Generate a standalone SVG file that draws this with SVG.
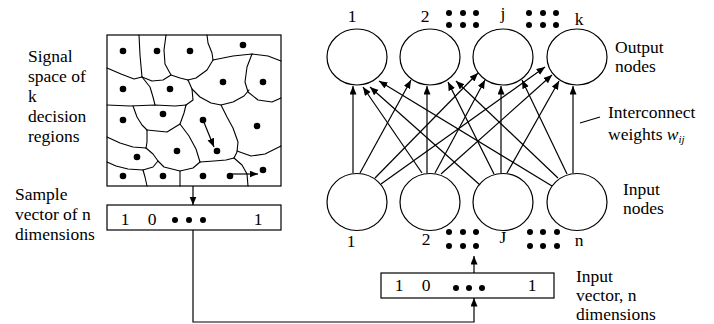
<svg xmlns="http://www.w3.org/2000/svg" width="714" height="324" viewBox="0 0 714 324" font-family="'Liberation Serif', 'DejaVu Serif', serif">
<style>
text{font-family:'Liberation Serif','DejaVu Serif',serif;font-size:17.5px;fill:#000}
.ln{fill:none;stroke:#000;stroke-width:1.2}
.cv{fill:none;stroke:#000;stroke-width:1.1;stroke-linejoin:round;stroke-linecap:round}
.nd{fill:#fff;stroke:#000;stroke-width:1.2}
.bx{fill:#fff;stroke:#000;stroke-width:1.2}
.dt{fill:#000}
</style>
<defs>
<marker id="ah" markerWidth="9" markerHeight="8" refX="8.5" refY="3.5" orient="auto" markerUnits="userSpaceOnUse">
<path d="M0,0 L8.5,3.5 L0,7 z" fill="#000"/>
</marker>
</defs>
<rect width="714" height="324" fill="#fff"/>

<g id="labels-left" font-family="'Liberation Serif', serif">
<text x="28" y="62">Signal</text>
<text x="28" y="82">space of</text>
<text x="28" y="102">k</text>
<text x="28" y="122">decision</text>
<text x="28" y="142">regions</text>
<text x="15" y="200">Sample</text>
<text x="15" y="220">vector of n</text>
<text x="15" y="240">dimensions</text>
</g>

<g id="signal-space">
<rect x="107" y="35" width="174" height="151" class="bx"/>
<polyline class="cv" points="139,35 140,55 142,77"/>
<polyline class="cv" points="107,68 121,74 134,79 142,77"/>
<polyline class="cv" points="142,77 152,81 163,80 171,75"/>
<polyline class="cv" points="166,35 164,50 165,64 171,75 180,78 188,80"/>
<polyline class="cv" points="188,80 196,78 207,70 213,60"/>
<polyline class="cv" points="207,35 208,43 212,53 213,60"/>
<polyline class="cv" points="213,60 233,56 252,54 268,56 281,61"/>
<polyline class="cv" points="252,54 247,67 245,82 248,92 258,100 272,102 281,98"/>
<polyline class="cv" points="142,77 150,87 153,97 155,105"/>
<polyline class="cv" points="107,105 130,106 155,105 175,106 186,105"/>
<polyline class="cv" points="188,80 192,89 193,100 186,105"/>
<polyline class="cv" points="192,89 200,97 211,103 221,105 233,102 244,96 249,90"/>
<polyline class="cv" points="221,105 227,117 233,128 238,142 237,152 234,158"/>
<polyline class="cv" points="237,151 251,156 265,154 281,146"/>
<polyline class="cv" points="234,158 242,165 247,174 248,186"/>
<polyline class="cv" points="186,105 184,113 180,124 189,136 196,149 200,162"/>
<polyline class="cv" points="200,162 214,161 226,160 234,158"/>
<polyline class="cv" points="133,106 137,117 142,125 147,130"/>
<polyline class="cv" points="147,130 167,132 180,124"/>
<polyline class="cv" points="147,130 147,142 146,148"/>
<polyline class="cv" points="107,137 120,143 133,147 146,148"/>
<polyline class="cv" points="146,148 153,154 158,161 153,167 143,170"/>
<polyline class="cv" points="143,170 128,169 116,166 107,162"/>
<polyline class="cv" points="158,161 164,167 180,171 193,168 200,162"/>
<polyline class="cv" points="143,170 145,177 147,186"/>
<polyline class="cv" points="180,171 180,186"/>
<g class="dt">
<circle cx="123" cy="51" r="3.3"/><circle cx="157" cy="51" r="3.3"/><circle cx="190" cy="51" r="3.3"/><circle cx="243" cy="45" r="3.3"/>
<circle cx="123" cy="89" r="3.3"/><circle cx="170" cy="89" r="3.3"/><circle cx="223" cy="82" r="3.3"/><circle cx="263" cy="82" r="3.3"/>
<circle cx="123" cy="120" r="3.3"/><circle cx="163" cy="114" r="3.3"/><circle cx="203" cy="120" r="3.3"/><circle cx="257" cy="126" r="3.3"/>
<circle cx="137" cy="157" r="3.3"/><circle cx="177" cy="151" r="3.3"/><circle cx="217" cy="151" r="3.3"/>
<circle cx="123" cy="176" r="3.3"/><circle cx="163" cy="176" r="3.3"/><circle cx="203" cy="176" r="3.3"/><circle cx="230" cy="176" r="3.3"/><circle cx="263" cy="170" r="3.3"/>
</g>
<line class="ln" x1="203" y1="120" x2="214" y2="147" marker-end="url(#ah)"/>
<line class="ln" x1="230" y1="174" x2="258" y2="174" marker-end="url(#ah)"/>
</g>

<g id="sample-vector">
<rect x="107" y="205" width="174" height="25" class="bx"/>
<text x="125" y="225" text-anchor="middle">1</text>
<text x="152" y="225" text-anchor="middle">0</text>
<circle class="dt" cx="175" cy="220" r="3"/><circle class="dt" cx="189" cy="220" r="3"/><circle class="dt" cx="203" cy="220" r="3"/>
<text x="258" y="225" text-anchor="middle">1</text>
</g>

<g id="input-vector">
<rect x="381" y="273" width="173" height="25" class="bx"/>
<text x="399" y="291" text-anchor="middle">1</text>
<text x="426" y="291" text-anchor="middle">0</text>
<circle class="dt" cx="456" cy="288" r="3"/><circle class="dt" cx="469" cy="288" r="3"/><circle class="dt" cx="482" cy="288" r="3"/>
<text x="532" y="291" text-anchor="middle">1</text>
<text x="576" y="282">Input</text>
<text x="576" y="301">vector, n</text>
<text x="576" y="320">dimensions</text>
</g>

<g id="output-nodes">
<ellipse id="o1" class="nd" cx="357" cy="57" rx="30" ry="28"/>
<ellipse id="o2" class="nd" cx="430" cy="57" rx="30" ry="28"/>
<ellipse id="o3" class="nd" cx="503" cy="57" rx="30" ry="28"/>
<ellipse id="o4" class="nd" cx="577" cy="57" rx="30" ry="28"/>
<text x="352" y="22" text-anchor="middle">1</text>
<text x="425" y="22" text-anchor="middle">2</text>
<text x="503" y="19" text-anchor="middle">j</text>
<text x="579" y="25" text-anchor="middle">k</text>
<g class="dt">
<circle cx="449" cy="13" r="3"/><circle cx="463" cy="13" r="3"/><circle cx="476" cy="13" r="3"/>
<circle cx="449" cy="25" r="3"/><circle cx="463" cy="25" r="3"/><circle cx="476" cy="25" r="3"/>
<circle cx="529" cy="13" r="3"/><circle cx="543" cy="13" r="3"/><circle cx="556" cy="13" r="3"/>
<circle cx="529" cy="25" r="3"/><circle cx="543" cy="25" r="3"/><circle cx="556" cy="25" r="3"/>
</g>
<text x="615" y="53">Output</text>
<text x="615" y="72">nodes</text>
</g>

<g id="input-nodes">
<ellipse id="i1" class="nd" cx="357" cy="202" rx="30" ry="28.5"/>
<ellipse id="i2" class="nd" cx="430" cy="202" rx="30" ry="28.5"/>
<ellipse id="i3" class="nd" cx="503" cy="202" rx="30" ry="28.5"/>
<ellipse id="i4" class="nd" cx="577" cy="202" rx="30" ry="28.5"/>
<text x="351" y="247" text-anchor="middle">1</text>
<text x="426" y="245" text-anchor="middle">2</text>
<text x="503" y="243" text-anchor="middle">J</text>
<text x="579" y="246" text-anchor="middle">n</text>
<g class="dt">
<circle cx="449" cy="232" r="3"/><circle cx="463" cy="232" r="3"/><circle cx="476" cy="232" r="3"/>
<circle cx="449" cy="246" r="3"/><circle cx="463" cy="246" r="3"/><circle cx="476" cy="246" r="3"/>
<circle cx="530" cy="232" r="3"/><circle cx="543" cy="232" r="3"/><circle cx="557" cy="232" r="3"/>
<circle cx="530" cy="246" r="3"/><circle cx="543" cy="246" r="3"/><circle cx="557" cy="246" r="3"/>
</g>
<text x="623" y="195">Input</text>
<text x="623" y="214">nodes</text>
</g>

<g id="weights-label">
<line class="ln" x1="580" y1="123" x2="600" y2="117"/>
<text x="608" y="118">Interconnect</text>
<text x="608" y="140">weights <tspan font-style="italic">w</tspan><tspan font-style="italic" font-size="11" dy="3">ij</tspan></text>
</g>

<g id="connectors">
<line class="ln" x1="353" y1="173" x2="353" y2="86" marker-end="url(#ah)"/>
<line class="ln" x1="360" y1="173" x2="411" y2="80" marker-end="url(#ah)"/>
<line class="ln" x1="375" y1="178" x2="478" y2="73" marker-end="url(#ah)"/>
<line class="ln" x1="381" y1="184" x2="545" y2="67" marker-end="url(#ah)"/>
<line class="ln" x1="422" y1="173" x2="363" y2="87" marker-end="url(#ah)"/>
<line class="ln" x1="427" y1="173" x2="427" y2="86" marker-end="url(#ah)"/>
<line class="ln" x1="435" y1="173" x2="485" y2="80" marker-end="url(#ah)"/>
<line class="ln" x1="441" y1="174" x2="552" y2="75" marker-end="url(#ah)"/>
<line class="ln" x1="480" y1="185" x2="370" y2="87" marker-end="url(#ah)"/>
<line class="ln" x1="494" y1="174" x2="448" y2="82" marker-end="url(#ah)"/>
<line class="ln" x1="501" y1="173" x2="501" y2="86" marker-end="url(#ah)"/>
<line class="ln" x1="507" y1="173" x2="559" y2="81" marker-end="url(#ah)"/>
<line class="ln" x1="552" y1="186" x2="379" y2="81" marker-end="url(#ah)"/>
<line class="ln" x1="558" y1="178" x2="456" y2="81" marker-end="url(#ah)"/>
<line class="ln" x1="567" y1="174" x2="522" y2="80" marker-end="url(#ah)"/>
<line class="ln" x1="573" y1="173" x2="573" y2="86" marker-end="url(#ah)"/>
<line class="ln" x1="193" y1="186" x2="193" y2="205" marker-end="url(#ah)"/>
<polyline class="ln" points="193,230 193,322 474,322 474,298" marker-end="url(#ah)"/>
<line class="ln" x1="474" y1="273" x2="474" y2="256" marker-end="url(#ah)"/>
</g>
</svg>
